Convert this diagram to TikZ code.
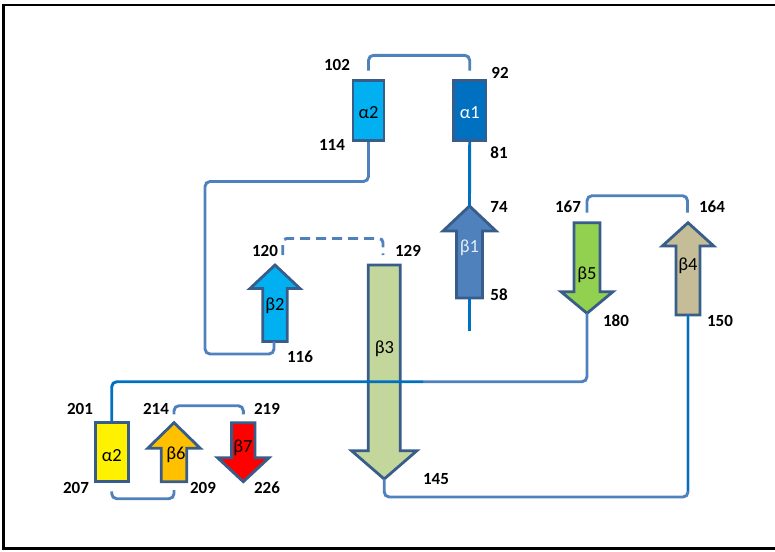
\documentclass[tikz,border=0pt]{standalone}
\usepackage{fontspec}
\setmainfont{Carlito}
\definecolor{lineblue}{RGB}{79,129,189}
\definecolor{brightblue}{RGB}{0,112,192}
\definecolor{outl}{RGB}{56,93,138}
\definecolor{cyanfill}{RGB}{0,176,240}
\definecolor{b3fill}{RGB}{195,214,155}
\definecolor{b5fill}{RGB}{146,208,80}
\definecolor{b4fill}{RGB}{196,189,151}
\definecolor{orangefill}{RGB}{255,192,0}
\newcommand\bstrand[7]{% fill, cx, shaft half, head half, tail y, head base y, tip y
  \draw[strandline, fill=#1] ({#2-#3},#5) -- ({#2-#3},#6) -- ({#2-#4},#6) -- (#2,#7)
    -- ({#2+#4},#6) -- ({#2+#3},#6) -- ({#2+#3},#5) -- cycle;}
\begin{document}
\begin{tikzpicture}[x=1pt,y=-1pt,
  strandline/.style={draw=outl, line width=2.8pt, line join=miter},
  helix/.style={draw=outl, line width=2.8pt, inner sep=0pt},
  conn/.style={draw=lineblue, line width=2.9pt, rounded corners=5pt},
  num/.style={font=\fontsize{17}{17}\selectfont\bfseries, inner sep=0pt},
  greek/.style={font=\fontsize{18.5}{18.5}\selectfont, inner sep=0pt}]
\useasboundingbox (0,0) rectangle (775,551);
% frame
\draw[line width=2.4pt, black] (790,5) -- (3.5,5) -- (3.5,548.5) -- (790,548.5);

% helices
\node[helix, fill=cyanfill, minimum width=31pt, minimum height=60pt] (a2top) at (368.5,110.7) {};
\node[greek] (ta2top) at (368.5,113) {α2};
\node[helix, fill=brightblue, minimum width=32.7pt, minimum height=60pt] (a1) at (469.7,110.7) {};
\node[greek, text=white] (ta1) at (469.7,113) {α1};
\node[helix, fill=yellow, minimum width=33pt, minimum height=59pt] (a2y) at (111.7,452.2) {};
\node[greek] (ta2y) at (111.7,456) {α2};

% strands
\bstrand{lineblue}{469.5}{13}{26.5}{298}{231}{206}
\coordinate (b1tip) at (469.5,206); \coordinate (b1tail) at (469.5,298);
\coordinate (b1end) at (469.5,331);
\bstrand{cyanfill}{275}{12.3}{25}{341.5}{288.5}{265}
\coordinate (b2tip) at (275,265); \coordinate (b2tail) at (274,341.5);
\bstrand{b3fill}{384.2}{16}{32.7}{265}{450.7}{479}
\coordinate (b3tip) at (384.2,479); \coordinate (b3tail) at (383,265);
\bstrand{b4fill}{688}{12}{25.7}{315}{246}{222.7}
\coordinate (b4tip) at (687.5,222.7); \coordinate (b4tail) at (688,315);
\bstrand{b5fill}{587}{13}{26}{222.7}{291.7}{313.3}
\coordinate (b5tip) at (587,313.3); \coordinate (b5tail) at (587,222.7);
\bstrand{orangefill}{174}{12.8}{26.3}{481.7}{448.3}{422.7}
\coordinate (b6tip) at (174,422.7); \coordinate (b6tail) at (174,481.7);
\bstrand{red}{243.3}{11.7}{25.8}{422.7}{457.7}{481.7}
\coordinate (b7tail) at (243.3,422.7);

\node[greek, text=white!85!lineblue] (tb1) at (469.5,248) {β1};
\node[greek] (tb2) at (275,306) {β2};
\node[greek] (tb3) at (384.5,349) {β3};
\node[greek] (tb4) at (688,266) {β4};
\node[greek] (tb5) at (587,275) {β5};
\node[greek] (tb6) at (176,455) {β6};
\node[greek] (tb7) at (243,448) {β7};

% bend points
\coordinate (bendA) at (205,181.5);
\coordinate (bendB) at (205,354);
\coordinate (bendC) at (384.2,497);
\coordinate (bendD) at (423,381.7);

% connectors
\draw[conn] ([yshift=8.7pt]a2top.north) -- ++(0,-15.3) -| ([yshift=8.7pt]a1.north);
\draw[conn, draw=brightblue] (a1.south) -- (b1tip);
\draw[conn, draw=brightblue] (b1tail) -- (b1end);
\draw[conn] (a2top.south) |- (bendA) -- (bendB) -| (b2tail);
\draw[conn, dash pattern=on 10pt off 6pt, rounded corners=4pt] ([xshift=7.7pt,yshift=10pt]b2tip) -- ++(0,-16.5) -| ([yshift=10pt]b3tail);
\draw[conn] ([yshift=10pt]b5tail) -- ++(0,-17) -| ([yshift=10pt]b4tip);
\draw[conn] (b3tip) -- (bendC) -| (b4tail);
\draw[conn, draw=brightblue] (b4tail) -- ++(0,176);
\draw[conn] (bendD) -| (b5tip);
\draw[conn, draw=brightblue] (a2y.north) |- (bendD);
\draw[conn] ([yshift=-8.3pt]a2y.south) -- ++(0,7.3) -| ([yshift=-8.3pt]b6tail);
\draw[conn] ([yshift=8.3pt]b6tip) -- ++(0,-8.7) -| ([yshift=8.3pt]b7tail);

% residue numbers
\node[num] (n102) at (337,65) {102};
\node[num] (n92) at (500,73) {92};
\node[num] (n114) at (332,145) {114};
\node[num] (n81) at (499,153) {81};
\node[num] (n74) at (499,207) {74};
\node[num] (n58) at (499,295) {58};
\node[num] (n120) at (265,251) {120};
\node[num] (n129) at (408,251) {129};
\node[num] (n116) at (300,357) {116};
\node[num] (n167) at (568,207) {167};
\node[num] (n164) at (712,207) {164};
\node[num] (n180) at (616,321) {180};
\node[num] (n150) at (720,321) {150};
\node[num] (n201) at (80,409) {201};
\node[num] (n207) at (76,488) {207};
\node[num] (n214) at (156,409) {214};
\node[num] (n219) at (267,409) {219};
\node[num] (n209) at (203,488) {209};
\node[num] (n226) at (267,488) {226};
\node[num] (n145) at (436,479) {145};
\end{tikzpicture}
\end{document}
